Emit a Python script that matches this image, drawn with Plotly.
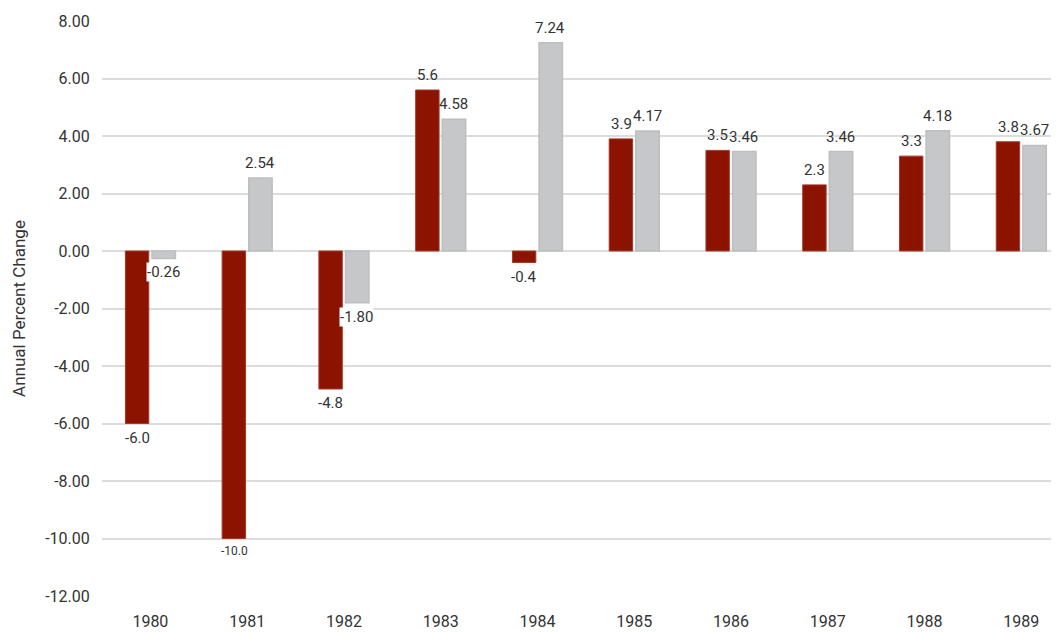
import plotly.graph_objects as go

RED = "#8B1300"
GRAY = "#C6C7C8"
TEXT = "#333333"
FONT = "Roboto, sans-serif"

years = ["1980", "1981", "1982", "1983", "1984", "1985", "1986", "1987", "1988", "1989"]
red_values = [-6.0, -10.0, -4.8, 5.6, -0.4, 3.9, 3.5, 2.3, 3.3, 3.8]
gray_values = [-0.26, 2.54, -1.80, 4.58, 7.24, 4.17, 3.46, 3.46, 4.18, 3.67]
y_ticks = [8, 6, 4, 2, 0, -2, -4, -6, -8, -10, -12]
y_tick_labels = ["8.00", "6.00", "4.00", "2.00", "0.00", "-2.00", "-4.00",
                 "-6.00", "-8.00", "-10.00", "-12.00"]

fig = go.Figure()
fig.add_trace(go.Bar(
    x=years,
    y=red_values,
    marker=dict(color=RED, line=dict(color="#A33A2A", width=1)),
))
fig.add_trace(go.Bar(
    x=years,
    y=gray_values,
    marker=dict(color=GRAY, line=dict(color="#BDBEBF", width=1.5)),
))


def add_value_label(idx, value, text, side, size=15, bg="rgba(0,0,0,0)"):
    # label a little clear of the bar end
    # (category axis: annotation x is the category's serial number)
    fig.add_annotation(
        x=idx,
        y=value,
        text=text,
        showarrow=False,
        xshift=13 * side,
        yshift=5 if value >= 0 else -4,
        yanchor="bottom" if value >= 0 else "top",
        bgcolor=bg,
        borderpad=0,
        font=dict(size=size, color=TEXT, family=FONT),
    )


for i, value in enumerate(red_values):
    # the -10.0 label is drawn smaller in the original
    add_value_label(i, value, f"{value:.1f}", -1, 12 if value <= -10 else 15)
for i, value in enumerate(gray_values):
    # negative gray labels run over the red bar, so give them a white box
    add_value_label(i, value, f"{value:.2f}", 1,
                    bg="white" if value < 0 else "rgba(0,0,0,0)")

# page body has an 8px margin, so the figure is sized to fill the rest
fig.update_layout(
    width=1051,
    height=624,
    plot_bgcolor="white",
    paper_bgcolor="white",
    showlegend=False,
    barmode="group",
    bargap=0.45,
    bargroupgap=0.12,
    font=dict(family=FONT, color=TEXT, size=16),
    margin=dict(l=94, r=0, t=13, b=36, autoexpand=False),
    xaxis=dict(
        type="category",
        range=[-0.5, 9.39],
        showgrid=False,
        showline=False,
        ticks="outside",
        ticklen=11,
        tickcolor="white",
        tickfont=dict(size=16, color=TEXT),
        automargin=False,
    ),
    yaxis=dict(
        range=[-12, 8],
        tickvals=y_ticks,
        ticktext=y_tick_labels,
        showgrid=True,
        gridcolor="#DCDCDC",
        gridwidth=2,
        zeroline=True,
        zerolinecolor="#DCDCDC",
        zerolinewidth=2,
        showline=False,
        ticks="outside",
        ticklen=8,
        tickcolor="white",
        tickfont=dict(size=16, color=TEXT),
        automargin=False,
        title=dict(text="Annual Percent Change", font=dict(size=17, color=TEXT)),
    ),
)

fig.write_html("out.html")
